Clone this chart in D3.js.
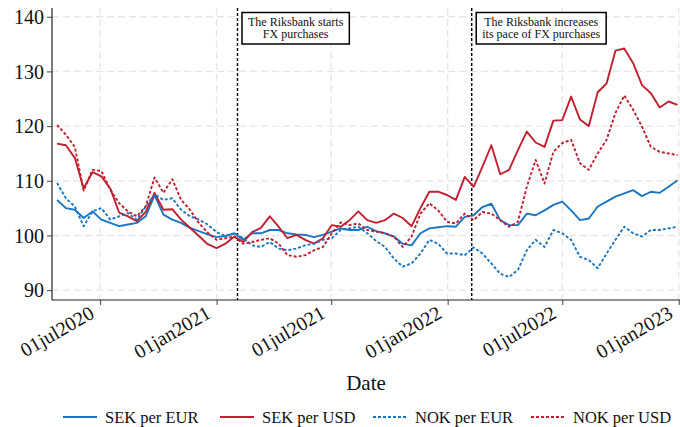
<!DOCTYPE html>
<html>
<head>
<meta charset="utf-8">
<script src="https://cdn.jsdelivr.net/npm/d3@7"></script>
<style>
    body { margin: 0; background: #fff; }
</style>
</head>
<body>
<div id="chart"></div>
<script>
var dates = [
    "2020-04-24","2020-05-08","2020-05-22","2020-06-05","2020-06-19","2020-07-03","2020-07-17","2020-07-31",
    "2020-08-14","2020-08-28","2020-09-11","2020-09-25","2020-10-09","2020-10-23","2020-11-06","2020-11-20",
    "2020-12-04","2020-12-18",
    "2021-01-01","2021-01-15","2021-01-29","2021-02-12","2021-02-26","2021-03-12","2021-03-26","2021-04-09",
    "2021-04-23","2021-05-07","2021-05-21","2021-06-04","2021-06-18","2021-07-02","2021-07-16","2021-07-30",
    "2021-08-13","2021-08-27","2021-09-10","2021-09-24","2021-10-08","2021-10-22","2021-11-05","2021-11-19",
    "2021-12-03","2021-12-17","2021-12-31",
    "2022-01-14","2022-01-28","2022-02-11","2022-02-25","2022-03-11","2022-03-25","2022-04-08","2022-04-22",
    "2022-05-06","2022-05-20","2022-06-03","2022-06-17","2022-07-01","2022-07-15","2022-07-29","2022-08-12",
    "2022-08-26","2022-09-09","2022-09-23","2022-10-07","2022-10-21","2022-11-04","2022-11-18","2022-12-02",
    "2022-12-16","2022-12-30"
];

var sekEur = [106.5, 105.0, 104.7, 103.2, 104.4, 102.9, 102.3, 101.7, 102.0, 102.3,
    103.5, 107.4, 103.8, 102.9, 102.3, 101.4, 100.8, 100.2, 99.7, 99.9,
    100.4, 99.2, 100.4, 100.4, 101.0, 101.0, 100.4, 100.2, 100.1, 99.7,
    100.1, 100.7, 101.3, 101.0, 101.0, 101.6, 100.8, 100.4, 99.8, 98.5,
    98.2, 100.4, 101.3, 101.5, 101.7, 101.6, 103.4, 103.7, 105.2, 105.8,
    102.8, 101.9, 101.9, 104.0, 103.7, 104.6, 105.6, 106.2, 104.6, 102.8,
    103.1, 105.3, 106.2, 107.1, 107.7, 108.3, 107.2, 108.0, 107.8, 108.9,
    110.1];

var sekUsd = [116.8, 116.5, 114.2, 108.6, 111.6, 110.8, 108.6, 104.2, 103.5, 102.6,
    104.3, 107.8, 104.7, 104.8, 102.9, 101.4, 99.9, 98.4, 97.7, 98.5,
    99.8, 98.8, 100.6, 101.4, 103.5, 101.6, 99.5, 100.1, 99.2, 98.5,
    99.5, 101.9, 101.6, 102.8, 104.4, 102.8, 102.3, 102.8, 104.0, 103.2,
    101.7, 105.0, 108.0, 108.0, 107.4, 106.5, 110.7, 108.9, 112.6, 116.5,
    111.2, 112.0, 115.6, 119.0, 117.0, 116.2, 121.0, 121.1, 125.4, 121.2,
    120.0, 126.2, 127.8, 133.8, 134.2, 131.5, 127.5, 126.0, 123.4, 124.5,
    123.9];

var nokEur = [109.6, 106.8, 105.3, 101.7, 104.4, 105.0, 102.9, 103.5, 104.1, 102.9,
    105.3, 107.5, 106.5, 106.8, 104.7, 103.5, 102.9, 102.0, 100.6, 99.9,
    100.4, 99.5, 98.2, 97.9, 98.8, 97.6, 97.3, 97.6, 98.2, 98.5,
    99.2, 99.5, 101.0, 101.3, 101.6, 100.4, 99.0, 97.9, 95.8, 94.3,
    94.9, 96.7, 99.2, 98.5, 96.7, 96.7, 96.4, 97.8, 96.7, 94.9,
    93.0, 92.4, 93.7, 97.3, 99.2, 97.9, 101.0, 100.4, 99.2, 96.1,
    95.5, 94.0, 96.7, 99.2, 101.6, 100.4, 99.8, 101.0, 101.0, 101.3,
    101.6];

var nokUsd = [120.2, 118.4, 116.2, 108.2, 112.0, 111.8, 108.4, 105.9, 104.4, 103.5,
    105.3, 110.6, 107.8, 110.3, 106.5, 104.7, 102.3, 100.5, 99.2, 99.5,
    99.8, 98.5, 98.8, 99.2, 99.5, 98.5, 96.4, 96.1, 96.4, 97.3,
    97.9, 100.4, 102.4, 101.9, 102.2, 101.0, 100.7, 100.4, 99.8, 97.9,
    99.8, 104.0, 105.9, 104.6, 102.5, 102.2, 104.0, 102.8, 104.3, 104.0,
    102.8, 101.6, 102.5, 108.9, 113.8, 109.5, 115.3, 116.9, 117.5, 113.2,
    112.0, 115.0, 117.5, 122.4, 125.6, 123.0, 119.9, 116.2, 115.3, 115.0,
    114.7];

var seriesNames = ["SEK per EUR", "SEK per USD", "NOK per EUR", "NOK per USD"];
var yTicks = [90, 100, 110, 120, 130, 140];
var xTicks = ["2020-07-01", "2021-01-01", "2021-07-01", "2022-01-01", "2022-07-01", "2023-01-01"];
var events = ["2021-02-03", "2022-02-08"];
var eventLabels = [["The Riksbank starts", "FX purchases"], ["The Riksbank increases", "its pace of FX purchases"]];

var width = 680, height = 427;
var margin = {top: 8, right: 0, bottom: 127, left: 52};
var blue = "#1a76c2", red = "#c0202f";
var serif = "'Liberation Serif', 'Times New Roman', Times, serif";

var parse = d3.timeParse("%Y-%m-%d");
var fmt = d3.timeFormat("%d%b%Y");

var svg = d3.select("#chart").append("svg")
    .attr("width", width)
    .attr("height", height)
    .style("font-family", serif);

var x = d3.scaleTime()
    .domain([parse("2020-04-16"), parse("2023-01-03")])
    .range([margin.left, width - margin.right]);
var y = d3.scaleLinear()
    .domain([88.2, 141.6])
    .range([height - margin.bottom, margin.top]);

// gridlines
svg.append("g").selectAll("line").data(yTicks).enter().append("line")
    .attr("x1", margin.left).attr("x2", width)
    .attr("y1", d => y(d)).attr("y2", d => y(d))
    .attr("stroke", "#e6e6e6").attr("stroke-width", 1.3).attr("stroke-dasharray", "7,4");
svg.append("g").selectAll("line").data(xTicks).enter().append("line")
    .attr("x1", d => x(parse(d))).attr("x2", d => x(parse(d)))
    .attr("y1", margin.top).attr("y2", y.range()[0])
    .attr("stroke", "#e6e6e6").attr("stroke-width", 1.3).attr("stroke-dasharray", "7,4");

// axes
var yAxis = svg.append("g")
    .attr("transform", "translate(" + margin.left + ",0)")
    .call(d3.axisLeft(y).tickValues(yTicks).tickSize(5).tickPadding(3));
yAxis.selectAll("text").style("font-size", "20px").attr("dy", "0.34em");

var xAxis = svg.append("g")
    .attr("transform", "translate(0," + y.range()[0] + ")")
    .call(d3.axisBottom(x).tickValues(xTicks.map(parse)).tickSize(5)
        .tickFormat(d => fmt(d).toLowerCase()));
xAxis.selectAll("text")
    .style("font-size", "20px")
    .attr("text-anchor", "end")
    .attr("x", 0).attr("y", 0).attr("dy", 0)
    .attr("transform", "translate(-5,17) rotate(-30)");

[yAxis, xAxis].forEach(function (ax) {
    ax.attr("font-family", null);
    ax.selectAll("text").style("font-family", serif).attr("fill", "#111");
    ax.select(".domain").attr("stroke", "#222").attr("stroke-width", 1.2);
    ax.selectAll(".tick line").attr("stroke", "#444");
});
xAxis.select(".domain").attr("d", "M" + margin.left + ",0H" + width);
yAxis.select(".domain").attr("d", "M0," + margin.top + "V" + y.range()[0]);

svg.append("text")
    .attr("x", 366).attr("y", 390)
    .attr("text-anchor", "middle")
    .style("font-family", serif)
    .style("font-size", "21px")
    .attr("fill", "#111")
    .text("Date");

// event lines and labels
events.forEach(function (e, i) {
    var ex = x(parse(e));
    svg.append("line")
        .attr("x1", ex).attr("x2", ex)
        .attr("y1", margin.top).attr("y2", y.range()[0])
        .attr("stroke", "#000").attr("stroke-width", 1.4).attr("stroke-dasharray", "3,2");

    var g = svg.append("g");
    var box = g.append("rect");
    var t = g.selectAll("text").data(eventLabels[i]).enter().append("text")
        .attr("y", (d, j) => 25.5 + j * 12.5)
        .attr("text-anchor", "middle")
        .style("font-family", serif)
        .style("font-size", "12px")
        .attr("fill", "#111")
        .text(d => d);
    var w = d3.max(t.nodes(), n => n.getComputedTextLength()) + 12;
    t.attr("x", ex + 4.5 + w / 2);
    box.attr("x", ex + 4.5).attr("y", 12.5)
        .attr("width", w).attr("height", 31.5)
        .attr("fill", "#fff").attr("stroke", "#000").attr("stroke-width", 1.5);
});

// series
var series = [
    {name: seriesNames[0], values: sekEur, color: blue, dash: null},
    {name: seriesNames[1], values: sekUsd, color: red, dash: null},
    {name: seriesNames[2], values: nokEur, color: blue, dash: "3,2"},
    {name: seriesNames[3], values: nokUsd, color: red, dash: "3,2"}
];

var line = d3.line()
    .x((d, i) => x(parse(dates[i])))
    .y(d => y(d));

svg.append("g").selectAll("path").data(series).enter().append("path")
    .attr("d", d => line(d.values))
    .attr("fill", "none")
    .attr("stroke", d => d.color)
    .attr("stroke-width", 1.9)
    .attr("stroke-linejoin", "round")
    .attr("stroke-dasharray", d => d.dash);

// legend
var legendX = [63, 220, 373, 531];
var legend = svg.append("g").selectAll("g").data(series).enter().append("g")
    .attr("transform", (d, i) => "translate(" + legendX[i] + ",417)");
legend.append("line")
    .attr("x1", 0).attr("x2", 34)
    .attr("stroke", d => d.color).attr("stroke-width", 2)
    .attr("stroke-dasharray", d => d.dash);
legend.append("text")
    .attr("x", 42).attr("y", 6)
    .style("font-family", serif)
    .style("font-size", "16.5px")
    .attr("fill", "#111")
    .text(d => d.name);
</script>
</body>
</html>
